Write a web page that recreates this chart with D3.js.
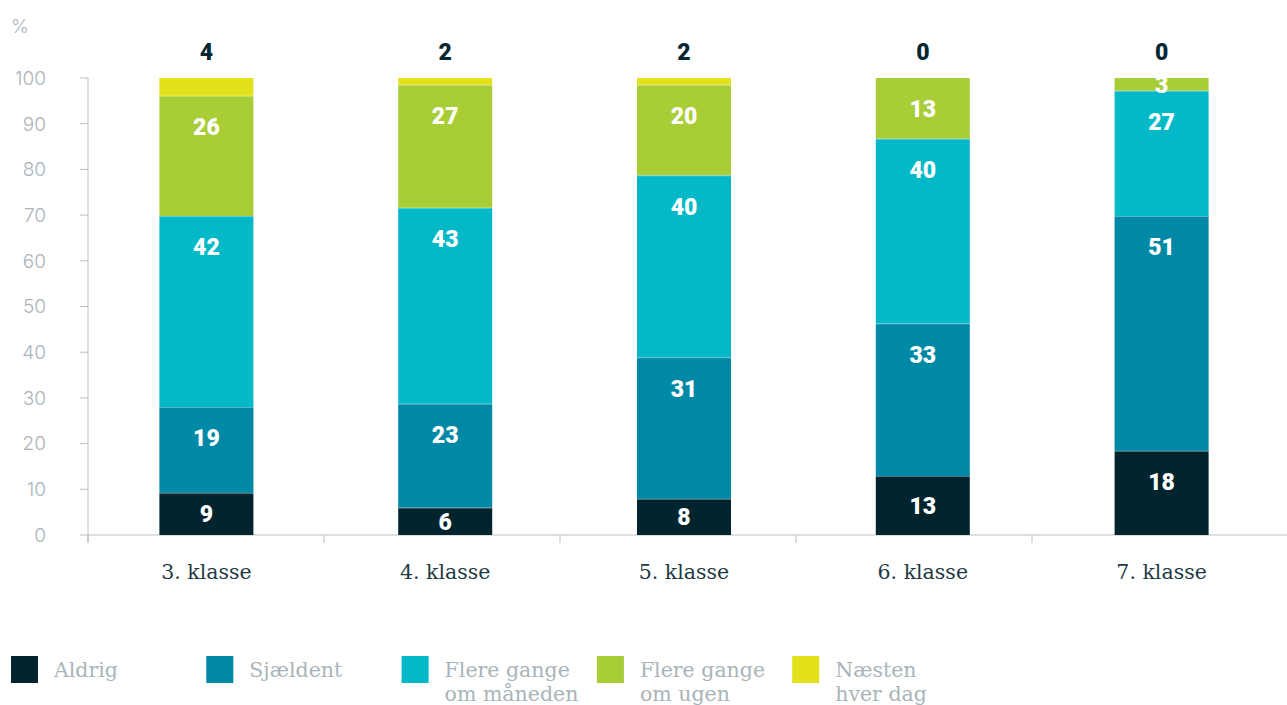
<!DOCTYPE html>
<meta charset="UTF-8">
<style>
body { margin: 0; background: #fff; }
.tick-label { font: 300 19px Inter, "Open Sans", sans-serif; fill: #a9b4ba; }
.cat-label { font: 20.5px "DejaVu Serif", serif; fill: #1f3a44; }
.val { font: 900 23px Roboto, "Open Sans", sans-serif; fill: #fff; }
.top-val { font: 900 23px Roboto, "Open Sans", sans-serif; fill: #062631; }
.legend text { font: 20.5px "DejaVu Serif", serif; fill: #a9b4ba; }
</style>
<body>
<script src="https://d3js.org/d3.v7.min.js"></script>
<script>

var categories = ["3. klasse", "4. klasse", "5. klasse", "6. klasse", "7. klasse"];
var seriesNames = ["Aldrig", "Sjældent", "Flere gange om måneden", "Flere gange om ugen", "Næsten hver dag"];
var legendLines = [["Aldrig"], ["Sjældent"], ["Flere gange", "om måneden"], ["Flere gange", "om ugen"], ["Næsten", "hver dag"]];
var colors = ["#02242f", "#0089a6", "#03b9c7", "#a8cd37", "#e3e21a"];

var aldrig      = [9.2, 6.0, 7.9, 12.9, 18.4];
var sjaeldent   = [18.8, 22.7, 31.0, 33.4, 51.4];
var maaneden    = [41.8, 42.9, 39.8, 40.4, 27.4];
var ugen        = [26.3, 26.9, 19.8, 13.3, 2.8];
var hverDag     = [3.9, 1.5, 1.5, 0, 0];

var yTicks = [0, 10, 20, 30, 40, 50, 60, 70, 80, 90, 100];

var W = 1287, H = 705;
var svg = d3.select("body").append("svg")
    .attr("width", W)
    .attr("height", H);

// bars and labels sit on one band, the axis ticks on a slightly narrower one
var x = d3.scaleBand().domain(categories).range([87, 1281]);
var xTick = d3.scaleBand().domain(categories).range([88, 1268]);
var barW = 94;
var y = d3.scaleLinear().domain([0, 100]).range([535, 78]);

var series = [aldrig, sjaeldent, maaneden, ugen, hverDag];
var rows = categories.map(function(c, i) {
  var r = {cat: c};
  seriesNames.forEach(function(s, j) { r[s] = series[j][i]; });
  return r;
});
var stacked = d3.stack().keys(seriesNames)(rows);
var cx = function(c) { return x(c) + x.bandwidth() / 2; };

// axes
var axisColor = "#b7c0c5";
svg.append("line").attr("x1", 88).attr("x2", W).attr("y1", y(0)).attr("y2", y(0))
  .attr("stroke", axisColor);
svg.append("line").attr("x1", 88).attr("x2", 88).attr("y1", y(100)).attr("y2", y(0) + 8)
  .attr("stroke", axisColor);

svg.selectAll(".ytick").data(yTicks).enter().append("line")
  .attr("x1", 80).attr("x2", 88)
  .attr("y1", function(d) { return y(d); })
  .attr("y2", function(d) { return y(d); })
  .attr("stroke", axisColor);

svg.selectAll(".ylab").data(yTicks).enter().append("text")
  .attr("class", "tick-label")
  .attr("x", 46).attr("y", function(d) { return y(d); })
  .attr("dy", "0.36em")
  .attr("text-anchor", "end")
  .text(function(d) { return d; });

svg.append("text").attr("class", "tick-label").attr("x", 11).attr("y", 33).text("%");

svg.selectAll(".xtick").data(categories).enter().append("line")
  .attr("x1", function(d) { return xTick(d); })
  .attr("x2", function(d) { return xTick(d); })
  .attr("y1", y(0)).attr("y2", y(0) + 8)
  .attr("stroke", axisColor);

svg.selectAll(".cat-label").data(categories).enter().append("text")
  .attr("class", "cat-label")
  .attr("x", cx)
  .attr("y", 579)
  .attr("text-anchor", "middle")
  .text(function(d) { return d; });

// bars
var layer = svg.selectAll(".layer").data(stacked).enter().append("g")
  .attr("fill", function(d, i) { return colors[i]; });

layer.selectAll("rect").data(function(d) { return d; }).enter().append("rect")
  .attr("x", function(d) { return cx(d.data.cat) - barW / 2; })
  .attr("width", barW)
  .attr("y", function(d) { return y(d[1]); })
  .attr("height", function(d) { return y(d[0]) - y(d[1]); });

// thin light seams between segments
layer.filter(function(d, i) { return i > 0; })
  .selectAll("line").data(function(d) { return d.filter(function(p) { return p[1] > p[0]; }); })
  .enter().append("line")
  .attr("x1", function(d) { return cx(d.data.cat) - barW / 2; })
  .attr("x2", function(d) { return cx(d.data.cat) + barW / 2; })
  .attr("y1", function(d) { return y(d[0]) + 0.5; })
  .attr("y2", function(d) { return y(d[0]) + 0.5; })
  .attr("stroke", "#fff").attr("stroke-opacity", 0.35);

// inner labels (top series is shown above the bar)
stacked.slice(0, 4).forEach(function(s) {
  svg.selectAll(null).data(s).enter().append("text")
    .attr("class", "val")
    .attr("x", function(d) { return cx(d.data.cat); })
    .attr("y", function(d) {
      var top = y(d[1]), h = y(d[0]) - y(d[1]);
      return top + Math.min(h / 2, 31);
    })
    .attr("dy", "0.36em")
    .attr("text-anchor", "middle")
    .text(function(d) { return Math.round(d[1] - d[0]); });
});

svg.selectAll(".top-val").data(rows).enter().append("text")
  .attr("class", "top-val")
  .attr("x", function(d) { return cx(d.cat); })
  .attr("y", 52)
  .attr("dy", "0.36em")
  .attr("text-anchor", "middle")
  .text(function(d) { return Math.round(d["Næsten hver dag"]); });

// legend
var leg = svg.selectAll(".legend").data(legendLines).enter().append("g")
  .attr("class", "legend")
  .attr("transform", function(d, i) { return "translate(" + (11 + i * 195.3) + ",656)"; });
leg.append("rect").attr("width", 27).attr("height", 27)
  .attr("fill", function(d, i) { return colors[i]; });
leg.append("text")
  .attr("x", 43).attr("y", 21)
  .selectAll("tspan").data(function(d) { return d; }).enter().append("tspan")
  .attr("x", 43)
  .attr("dy", function(d, i) { return i === 0 ? 0 : 24; })
  .text(function(d) { return d; });

</script>
</body>
